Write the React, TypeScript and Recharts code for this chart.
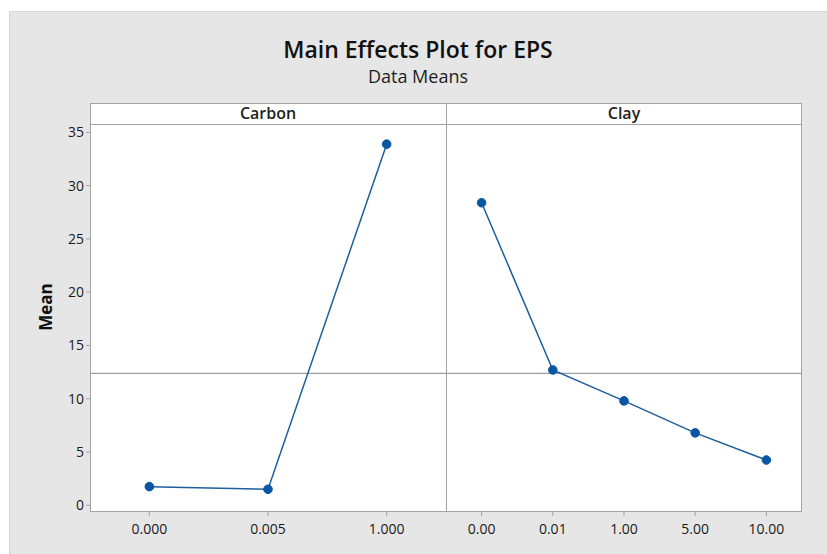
import { CartesianGrid, Line, LineChart, ReferenceLine, XAxis, YAxis } from 'recharts';

// level means of EPS for each factor
const carbonLevels = ['0.000', '0.005', '1.000'];
const carbonMeans = [1.75, 1.5, 33.9];
const clayLevels = ['0.00', '0.01', '1.00', '5.00', '10.00'];
const clayMeans = [28.4, 12.7, 9.8, 6.8, 4.25];
const yTicks = [0, 5, 10, 15, 20, 25, 30, 35];
const yDomain: [number, number] = [-0.63, 35.79];

const carbonData = carbonLevels.map((level, i) => ({ level, mean: carbonMeans[i] }));
const clayData = clayLevels.map((level, i) => ({ level, mean: clayMeans[i] }));
const grandMean = carbonMeans.reduce((a, b) => a + b, 0) / carbonMeans.length;

const FONT = '"Open Sans", "Noto Sans", sans-serif';
const LINE = '#1d5f9c';
const DOT = '#0b56a3';
const FRAME = '#a3a3a3';
const tickStyle = { fontSize: 14, fill: '#1a1a1a', fontFamily: FONT };

// frame box of the two panels
const box = { left: 90, top: 103, right: 802, bottom: 512, strip: 124, split: 446 };

function Panel({ data, width, left, showY }: { data: { level: string; mean: number }[]; width: number; left: number; showY: boolean }) {
  const plotWidth = showY ? width - box.left : width;
  // levels sit in the middle of equal slots
  const pad = plotWidth / data.length / 2;
  return (
    <div style={{ position: 'absolute', left, top: 0 }}>
      <LineChart width={width} height={554} data={data} margin={{ top: box.strip, right: 0, bottom: 554 - box.bottom - 30, left: showY ? 30 : 0 }}>
        <CartesianGrid horizontal={false} vertical={false} fill="#ffffff" />
        <XAxis
          dataKey="level"
          axisLine={false}
          tickLine={{ stroke: FRAME }}
          tickSize={4}
          tickMargin={8}
          tick={tickStyle}
          height={30}
          interval={0}
          padding={{ left: pad, right: pad }}
        />
        <YAxis
          hide={!showY}
          width={60}
          domain={yDomain}
          ticks={yTicks}
          allowDataOverflow
          axisLine={false}
          tickLine={{ stroke: FRAME }}
          tickSize={4}
          tick={tickStyle}
        />
        <ReferenceLine y={grandMean} stroke="#9c9c9c" strokeWidth={1.2} />
        <Line
          type="linear"
          dataKey="mean"
          stroke={LINE}
          strokeWidth={1.5}
          dot={{ r: 4.3, fill: DOT, stroke: DOT, strokeWidth: 1 }}
          isAnimationActive={false}
        />
      </LineChart>
    </div>
  );
}

export default function App() {
  const stripText = { position: 'absolute' as const, top: box.top, height: box.strip - box.top, lineHeight: `${box.strip - box.top}px`, textAlign: 'center' as const, fontWeight: 600, fontSize: 16, color: '#1e1e1e' };
  return (
    <div style={{ position: 'absolute', left: 0, top: 0, width: 827, height: 554, background: '#fff', fontFamily: FONT, overflow: 'hidden' }}>
      <div style={{ position: 'absolute', left: 9, top: 11, right: 0, bottom: 0, background: '#e6e6e6', borderTop: '1px solid #d6d6d6', borderLeft: '1px solid #d6d6d6' }} />
      <div style={{ position: 'absolute', left: 9, width: 818, top: 33, textAlign: 'center', fontSize: 23, fontWeight: 600, color: '#111' }}>
        Main Effects Plot for EPS
      </div>
      <div style={{ position: 'absolute', left: 9, width: 818, top: 64, textAlign: 'center', fontSize: 18, color: '#1e1e1e' }}>Data Means</div>

      <div style={{ position: 'absolute', left: box.left, top: box.top, width: box.right - box.left, height: box.strip - box.top, background: '#fff' }} />
      <Panel data={carbonData} width={box.split} left={0} showY />
      <Panel data={clayData} width={box.right - box.split} left={box.split} showY={false} />

      {/* frame, strip rule and panel divider */}
      <div style={{ position: 'absolute', left: box.left, top: box.top, width: box.right - box.left, height: box.bottom - box.top, border: `1px solid ${FRAME}`, boxSizing: 'border-box', pointerEvents: 'none' }} />
      <div style={{ position: 'absolute', left: box.left, top: box.strip, width: box.right - box.left, height: 1, background: FRAME }} />
      <div style={{ position: 'absolute', left: box.split, top: box.top, width: 1, height: box.bottom - box.top, background: FRAME }} />
      <div style={{ ...stripText, left: box.left, width: box.split - box.left }}>Carbon</div>
      <div style={{ ...stripText, left: box.split, width: box.right - box.split }}>Clay</div>

      <div style={{ position: 'absolute', left: 45, top: 307, transform: 'translate(-50%, -50%) rotate(-90deg)', fontSize: 17, fontWeight: 700, color: '#111' }}>
        Mean
      </div>
    </div>
  );
}
